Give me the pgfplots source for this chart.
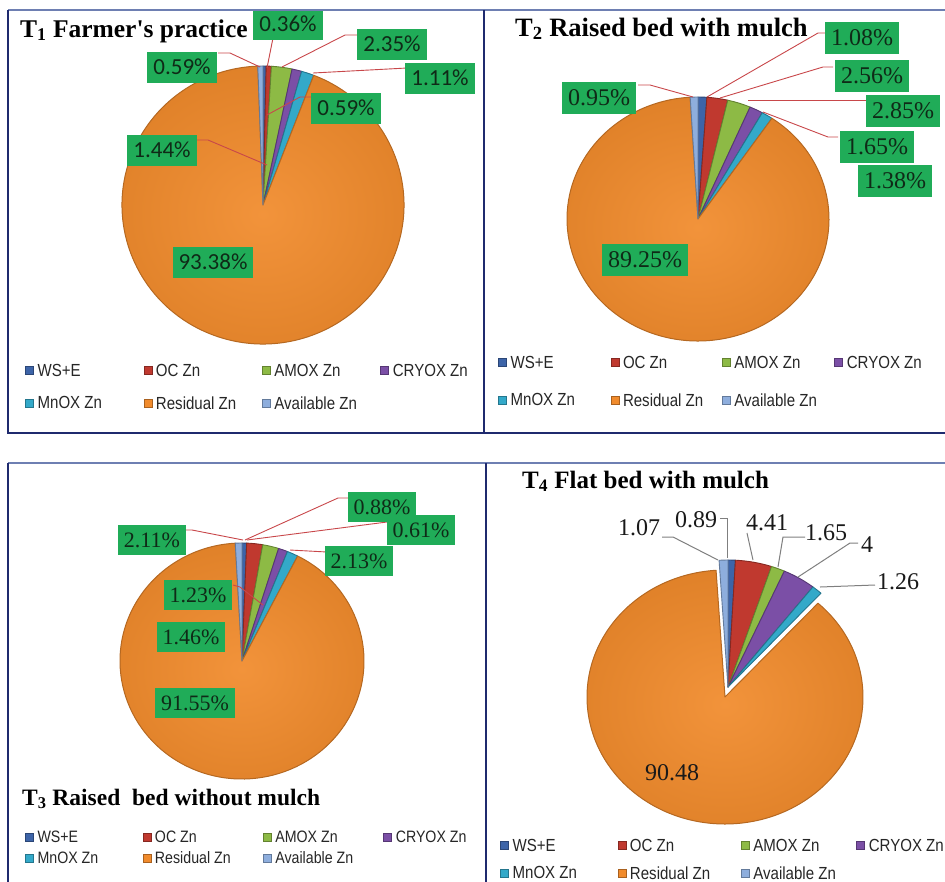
\documentclass[border=0pt]{standalone}
\usepackage{pgfplots}
\pgfplotsset{compat=1.18}
\usepackage{pgfplotstable}
\usepackage{graphicx}
\usepackage{fontspec}
\setmainfont{Liberation Serif}
\newfontfamily\legfont{Liberation Sans}
\newfontfamily\calfont{Carlito}

\definecolor{cws}{HTML}{3D64A8}
\definecolor{coc}{HTML}{C0392F}
\definecolor{cam}{HTML}{8DBA45}
\definecolor{ccr}{HTML}{7B4FA6}
\definecolor{cmn}{HTML}{33A9C9}
\definecolor{cres}{HTML}{F18B2C}
\definecolor{cav}{HTML}{8EAEDD}
\definecolor{lblgreen}{RGB}{32,172,88}
\definecolor{lbltext}{HTML}{0F2A17}
\definecolor{leadred}{HTML}{C8474A}
\definecolor{leadgray}{HTML}{7F7F7F}
\definecolor{navy}{HTML}{1F2A6E}
\definecolor{topline}{HTML}{6E7FB2}

% T1 Farmer's practice
\pgfplotstableread{
name val col dx dy
WS+E 0.36 cws 0 0
OC 0.59 coc 0 0
AMOX 2.35 cam 0 0
CRYOX 1.11 ccr 0 0
MnOX 1.44 cmn 0 0
Residual 93.38 cres 0 0
Available 0.59 cav 0 0
}\tableA
% T2 Raised bed with mulch
\pgfplotstableread{
name val col dx dy
WS+E 1.08 cws 0 0
OC 2.56 coc 0 0
AMOX 2.85 cam 0 0
CRYOX 1.65 ccr 0 0
MnOX 1.38 cmn 0 0
Residual 89.25 cres 0 0
Available 0.95 cav 0 0
}\tableB
% T3 Raised bed without mulch
\pgfplotstableread{
name val col dx dy
WS+E 0.61 cws 0 0
OC 2.11 coc 0 0
AMOX 2.13 cam 0 0
CRYOX 1.23 ccr 0 0
MnOX 1.46 cmn 0 0
Residual 91.55 cres 0 0
Available 0.88 cav 0 0
}\tableC
% T4 Flat bed with mulch
\pgfplotstableread{
name val col dx dy
WS+E 0.89 cws 0 0
OC 4.41 coc 0 0
AMOX 1.65 cam 0 0
CRYOX 4 ccr 0 0
MnOX 1.26 cmn 0 0
Residual 90.48 cres -3 10
Available 1.07 cav 0 0
}\tableD

\newcommand\drawpie[5]{% #1 table, #2 cx, #3 cy, #4 rx, #5 ry
  \pgfplotstablegetrowsof{#1}%
  \pgfmathtruncatemacro\lastrow{\pgfplotsretval-1}%
  \gdef\pietotal{0}%
  \foreach \i in {0,...,\lastrow}{%
    \pgfplotstablegetelem{\i}{val}\of{#1}%
    \pgfmathsetmacro\tmpv{\pietotal+\pgfplotsretval}%
    \xdef\pietotal{\tmpv}}%
  \gdef\cumval{0}%
  \foreach \i in {0,...,\lastrow}{%
    \pgfplotstablegetelem{\i}{val}\of{#1}\let\sv\pgfplotsretval
    \pgfplotstablegetelem{\i}{col}\of{#1}\let\scol\pgfplotsretval
    \pgfplotstablegetelem{\i}{dx}\of{#1}\let\sdx\pgfplotsretval
    \pgfplotstablegetelem{\i}{dy}\of{#1}\let\sdy\pgfplotsretval
    \pgfmathsetmacro\angA{90-\cumval/\pietotal*360}%
    \pgfmathsetmacro\angB{90-(\cumval+\sv)/\pietotal*360}%
    \pgfmathsetmacro\ccx{#2+\sdx}%
    \pgfmathsetmacro\ccy{#3+\sdy}%
    \pgfmathtruncatemacro\isbig{\sv>50 ? 1 : 0}%
    \ifnum\isbig=1
      \shadedraw[inner color=\scol!93!white, outer color=\scol!93!black,
        draw=\scol!75!black, line width=1bp, line join=round]
        (axis cs:\ccx,\ccy) -- ++(\angA:#4bp and #5bp)
        arc[start angle=\angA, end angle=\angB, x radius=#4bp, y radius=#5bp] -- cycle;
    \else
      \filldraw[fill=\scol, draw=\scol!70!black, line width=0.9bp, line join=round]
        (axis cs:\ccx,\ccy) -- ++(\angA:#4bp and #5bp)
        arc[start angle=\angA, end angle=\angB, x radius=#4bp, y radius=#5bp] -- cycle;
    \fi
    \pgfmathsetmacro\tmpv{\cumval+\sv}%
    \xdef\cumval{\tmpv}}%
}
\newcommand\lgt[2]{\makebox[#1][l]{\rule[-4bp]{0pt}{15bp}\hspace{4bp}\scalebox{0.86}[1]{#2}}}

\pgfplotsset{
  panel/.style={
    x=1bp, y=1bp, xmin=0, xmax=945, ymin=0, ymax=882, y dir=reverse,
    hide axis, clip=false, at={(0,0)}, anchor=north west,
    legend columns=4,
    legend image code/.code={\draw[##1] (0bp,-4bp) rectangle (8bp,4bp);},
    legend style={draw=none, fill=none, inner sep=0pt, anchor=north west,
      cells={anchor=west}, nodes={inner sep=0pt, text depth=0pt},
      text=black!85, font=\legfont\fontsize{17.5bp}{18bp}\selectfont},
  },
}
\tikzset{
  lboxA/.style={fill=lblgreen, text=lbltext, font=\calfont\fontsize{23bp}{23bp}\selectfont,
    inner xsep=6bp, inner ysep=0pt, minimum height=31bp},
  lboxB/.style={fill=lblgreen, text=lbltext, font=\fontsize{24bp}{24bp}\selectfont,
    inner xsep=6bp, inner ysep=0pt, minimum height=32bp},
  lboxC/.style={fill=lblgreen, text=lbltext, font=\fontsize{22bp}{22bp}\selectfont,
    inner xsep=6bp, inner ysep=0pt, minimum height=30bp},
  lplain/.style={text=black!90, font=\fontsize{24bp}{24bp}\selectfont, inner sep=0pt},
  ttl/.style={anchor=base west, inner sep=0pt, font=\bfseries\fontsize{#1}{#1}\selectfont},
}

\begin{document}
\begin{tikzpicture}
\useasboundingbox (0,0) rectangle (945bp,-882bp);
\clip (0,0) rectangle (945bp,-882bp);

% ---------------- T1 ----------------
\begin{axis}[panel, legend style={at={(axis cs:25,364)}, row sep=20bp}]
\pgfplotsextra{\drawpie{\tableA}{263}{205}{141}{139}}
\draw[leadred, line width=0.9bp] (axis cs:218,53) -- (axis cs:230,53) -- (axis cs:260,67);
\draw[leadred, line width=0.9bp] (axis cs:273,38) -- (axis cs:267,68);
\draw[leadred, line width=0.9bp] (axis cs:358,35) -- (axis cs:345,35) -- (axis cs:282,67);
\draw[leadred, line width=0.9bp] (axis cs:407,68) -- (axis cs:313,73);
\draw[leadred, line width=0.9bp] (axis cs:312,97) -- (axis cs:300,97) -- (axis cs:267,115);
\draw[leadred, line width=0.9bp] (axis cs:197,140) -- (axis cs:208,140) -- (axis cs:267,165);
\node[ttl=25.5bp] at (axis cs:20,37) {T\textsubscript{1} Farmer\textquotesingle s practice};
\node[lboxA] at (axis cs:182,67) {0.59\%};
\node[lboxA] at (axis cs:288,24) {0.36\%};
\node[lboxA] at (axis cs:392,44) {2.35\%};
\node[lboxA] at (axis cs:440,78) {1.11\%};
\node[lboxA] at (axis cs:346,108) {0.59\%};
\node[lboxA] at (axis cs:162,150) {1.44\%};
\node[lboxA] at (axis cs:213,262) {93.38\%};
\addlegendimage{fill=cws, draw=cws!70!black}\addlegendentry{\lgt{110bp}{WS+E}}
\addlegendimage{fill=coc, draw=coc!70!black}\addlegendentry{\lgt{110bp}{OC Zn}}
\addlegendimage{fill=cam, draw=cam!70!black}\addlegendentry{\lgt{110bp}{AMOX Zn}}
\addlegendimage{fill=ccr, draw=ccr!70!black}\addlegendentry{\lgt{90bp}{CRYOX Zn}}
\addlegendimage{fill=cmn, draw=cmn!70!black}\addlegendentry{\lgt{110bp}{MnOX Zn}}
\addlegendimage{fill=cres, draw=cres!70!black}\addlegendentry{\lgt{110bp}{Residual Zn}}
\addlegendimage{fill=cav, draw=cav!70!black}\addlegendentry{\lgt{110bp}{Available Zn}}
\end{axis}

% ---------------- T2 ----------------
\begin{axis}[panel, legend style={at={(axis cs:498,356)}, row sep=25bp}]
\pgfplotsextra{\drawpie{\tableB}{698}{219}{131}{122}}
\draw[leadred, line width=0.9bp] (axis cs:825,33) -- (axis cs:818,33) -- (axis cs:707,97);
\draw[leadred, line width=0.9bp] (axis cs:833,67) -- (axis cs:823,67) -- (axis cs:720,98);
\draw[leadred, line width=0.9bp] (axis cs:870,100) -- (axis cs:748,100);
\draw[leadred, line width=0.9bp] (axis cs:838,137) -- (axis cs:828,137) -- (axis cs:763,112);
\draw[leadred, line width=0.9bp] (axis cs:638,85) -- (axis cs:650,85) -- (axis cs:693,97);
\node[ttl=26.5bp] at (axis cs:515,36) {T\textsubscript{2} Raised bed with mulch};
\node[lboxB] at (axis cs:862,38) {1.08\%};
\node[lboxB] at (axis cs:872,76) {2.56\%};
\node[lboxB] at (axis cs:903,111) {2.85\%};
\node[lboxB] at (axis cs:877,147) {1.65\%};
\node[lboxB] at (axis cs:895,181) {1.38\%};
\node[lboxB] at (axis cs:599,98) {0.95\%};
\node[lboxB] at (axis cs:645,260) {89.25\%};
\addlegendimage{fill=cws, draw=cws!70!black}\addlegendentry{\lgt{104bp}{WS+E}}
\addlegendimage{fill=coc, draw=coc!70!black}\addlegendentry{\lgt{103bp}{OC Zn}}
\addlegendimage{fill=cam, draw=cam!70!black}\addlegendentry{\lgt{104bp}{AMOX Zn}}
\addlegendimage{fill=ccr, draw=ccr!70!black}\addlegendentry{\lgt{90bp}{CRYOX Zn}}
\addlegendimage{fill=cmn, draw=cmn!70!black}\addlegendentry{\lgt{104bp}{MnOX Zn}}
\addlegendimage{fill=cres, draw=cres!70!black}\addlegendentry{\lgt{103bp}{Residual Zn}}
\addlegendimage{fill=cav, draw=cav!70!black}\addlegendentry{\lgt{104bp}{Available Zn}}
\end{axis}

% ---------------- T3 ----------------
\begin{axis}[panel, legend style={at={(axis cs:25,831)}, row sep=9bp,
    font=\legfont\fontsize{16.5bp}{17bp}\selectfont}]
\pgfplotsextra{\drawpie{\tableC}{242}{661}{122}{118}}
\draw[leadred, line width=0.9bp] (axis cs:348,498) -- (axis cs:338,498) -- (axis cs:245,540);
\draw[leadred, line width=0.9bp] (axis cs:387,522) -- (axis cs:247,540);
\draw[leadred, line width=0.9bp] (axis cs:327,552) -- (axis cs:290,550);
\draw[leadred, line width=0.9bp] (axis cs:185,530) -- (axis cs:192,530) -- (axis cs:243,540);
\draw[leadred, line width=0.9bp] (axis cs:233,585) -- (axis cs:240,587) -- (axis cs:263,605);
\node[ttl=23.5bp] at (axis cs:22,805) {T\textsubscript{3} Raised\ \ bed without mulch};
\node[lboxC] at (axis cs:382,507) {0.88\%};
\node[lboxC] at (axis cs:421,530) {0.61\%};
\node[lboxC] at (axis cs:359,561) {2.13\%};
\node[lboxC] at (axis cs:152,540) {2.11\%};
\node[lboxC] at (axis cs:198,595) {1.23\%};
\node[lboxC] at (axis cs:191,637) {1.46\%};
\node[lboxC] at (axis cs:195,703) {91.55\%};
\addlegendimage{fill=cws, draw=cws!70!black}\addlegendentry{\lgt{109bp}{WS+E}}
\addlegendimage{fill=coc, draw=coc!70!black}\addlegendentry{\lgt{112bp}{OC Zn}}
\addlegendimage{fill=cam, draw=cam!70!black}\addlegendentry{\lgt{112bp}{AMOX Zn}}
\addlegendimage{fill=ccr, draw=ccr!70!black}\addlegendentry{\lgt{90bp}{CRYOX Zn}}
\addlegendimage{fill=cmn, draw=cmn!70!black}\addlegendentry{\lgt{109bp}{MnOX Zn}}
\addlegendimage{fill=cres, draw=cres!70!black}\addlegendentry{\lgt{112bp}{Residual Zn}}
\addlegendimage{fill=cav, draw=cav!70!black}\addlegendentry{\lgt{112bp}{Available Zn}}
\end{axis}

% ---------------- T4 ----------------
\begin{axis}[panel, legend style={at={(axis cs:500,839)}, row sep=15bp}]
\pgfplotsextra{\drawpie{\tableD}{728}{687}{138}{127}}
\draw[leadgray, line width=1bp] (axis cs:662,537) -- (axis cs:673,537) -- (axis cs:718,560);
\draw[leadgray, line width=1bp] (axis cs:720,518) -- (axis cs:727,518) -- (axis cs:727,558);
\draw[leadgray, line width=1bp] (axis cs:747,533) -- (axis cs:753,560);
\draw[leadgray, line width=1bp] (axis cs:805,537) -- (axis cs:783,537) -- (axis cs:778,567);
\draw[leadgray, line width=1bp] (axis cs:858,543) -- (axis cs:850,543) -- (axis cs:798,577);
\draw[leadgray, line width=1bp] (axis cs:875,585) -- (axis cs:820,587);
\node[ttl=25bp] at (axis cs:522,488) {T\textsubscript{4} Flat bed with mulch};
\node[lplain] at (axis cs:639,528) {1.07};
\node[lplain] at (axis cs:696,520) {0.89};
\node[lplain] at (axis cs:767,523) {4.41};
\node[lplain] at (axis cs:826,533) {1.65};
\node[lplain] at (axis cs:867,545) {4};
\node[lplain] at (axis cs:898,582) {1.26};
\node[lplain] at (axis cs:672,773) {90.48};
\addlegendimage{fill=cws, draw=cws!70!black}\addlegendentry{\lgt{109bp}{WS+E}}
\addlegendimage{fill=coc, draw=coc!70!black}\addlegendentry{\lgt{115bp}{OC Zn}}
\addlegendimage{fill=cam, draw=cam!70!black}\addlegendentry{\lgt{107bp}{AMOX Zn}}
\addlegendimage{fill=ccr, draw=ccr!70!black}\addlegendentry{\lgt{80bp}{CRYOX Zn}}
\addlegendimage{fill=cmn, draw=cmn!70!black}\addlegendentry{\lgt{109bp}{MnOX Zn}}
\addlegendimage{fill=cres, draw=cres!70!black}\addlegendentry{\lgt{115bp}{Residual Zn}}
\addlegendimage{fill=cav, draw=cav!70!black}\addlegendentry{\lgt{107bp}{Available Zn}}
% panel frames
\draw[topline, line width=1.5bp] (axis cs:8,10) -- (axis cs:950,10);
\draw[topline, line width=1.5bp] (axis cs:8,463) -- (axis cs:950,463);
\draw[navy, line width=2.5bp] (axis cs:8,10) -- (axis cs:8,433) -- (axis cs:950,433);
\draw[navy, line width=2.5bp] (axis cs:484,10) -- (axis cs:484,433);
\draw[navy, line width=2.5bp] (axis cs:8,463) -- (axis cs:8,890);
\draw[navy, line width=2.5bp] (axis cs:486,463) -- (axis cs:486,890);
\end{axis}
\end{tikzpicture}
\end{document}
